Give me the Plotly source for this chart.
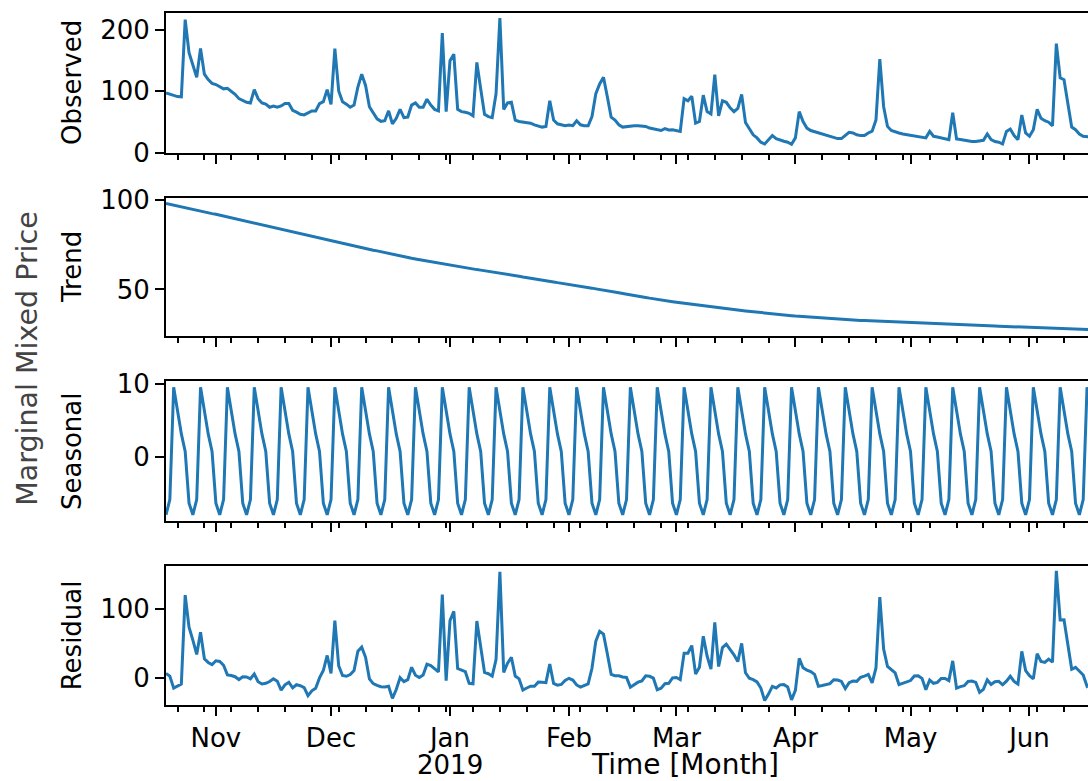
import numpy as np
import pandas as pd
import plotly.graph_objects as go
from plotly.subplots import make_subplots

# Daily marginal mixed price, 2018-10-19 .. 2019-06-17
start_date = "2018-10-19"

observed = [
    97.3, 95.0, 92.5, 91.4, 91.0, 216.8, 163.0, 142.0, 123.0, 170.0,
    128.0, 119.0, 113.0, 111.0, 108.0, 104.0, 105.0, 100.5, 95.0, 88.0,
    84.5, 82.0, 81.0, 102.7, 88.0, 81.0, 79.0, 74.0, 76.0, 74.0,
    76.0, 80.0, 80.0, 69.0, 66.0, 62.5, 61.4, 64.6, 68.0, 68.0,
    80.0, 83.0, 102.7, 78.5, 169.7, 100.5, 83.0, 79.0, 74.0, 77.5,
    107.0, 128.0, 109.6, 74.8, 65.0, 55.0, 51.0, 52.0, 68.0, 47.0,
    56.0, 70.5, 57.0, 58.0, 77.5, 81.0, 74.0, 74.0, 87.0, 77.5,
    70.5, 68.0, 195.0, 66.8, 150.0, 160.6, 70.5, 66.8, 65.7, 64.0,
    59.8, 147.0, 104.0, 62.5, 58.7, 57.0, 96.0, 219.5, 70.5, 81.0,
    82.0, 53.0, 50.7, 49.6, 49.0, 48.0, 45.3, 43.7, 41.6, 42.7,
    84.5, 53.0, 47.0, 45.3, 43.7, 44.8, 44.0, 52.0, 45.3, 43.7,
    43.7, 58.7, 96.0, 112.0, 123.0, 91.0, 57.7, 53.0, 45.3, 41.6,
    42.7, 43.7, 43.7, 43.7, 42.7, 42.7, 40.0, 39.0, 37.3, 36.0,
    39.0, 36.8, 37.3, 36.0, 34.6, 88.0, 84.5, 92.0, 48.0, 50.7,
    93.6, 66.8, 63.0, 127.0, 59.8, 84.5, 82.0, 73.0, 66.8, 72.0,
    95.0, 49.0, 38.4, 29.0, 24.0, 17.0, 14.0, 20.0, 27.7, 22.8,
    20.0, 18.5, 17.0, 13.5, 24.0, 66.8, 50.7, 40.0, 36.0, 34.0,
    32.0, 29.8, 28.0, 26.6, 25.0, 22.8, 22.8, 27.7, 33.0, 32.0,
    29.0, 27.7, 27.7, 32.0, 35.0, 53.4, 152.5, 74.8, 42.7, 36.0,
    33.5, 32.0, 30.3, 29.3, 28.7, 28.2, 26.6, 25.0, 24.0, 34.6,
    26.6, 25.5, 24.0, 22.3, 21.2, 65.0, 22.3, 21.2, 20.0, 19.0,
    18.0, 18.0, 19.0, 20.0, 30.3, 21.2, 18.0, 17.0, 14.0, 34.6,
    38.4, 27.7, 21.2, 61.4, 32.0, 26.6, 37.3, 70.5, 56.0, 52.0,
    49.6, 43.7, 177.7, 122.0, 118.8, 80.0, 41.6, 37.3, 30.3, 26.6,
    25.5, 25.5,
]

trend = [
    98.2, 97.7, 97.3, 96.8, 96.3, 95.8, 95.4, 94.9, 94.4, 93.9,
    93.5, 93.0, 92.5, 92.1, 91.6, 91.1, 90.6, 90.1, 89.6, 89.1,
    88.6, 88.1, 87.6, 87.1, 86.6, 86.1, 85.6, 85.1, 84.6, 84.1,
    83.6, 83.1, 82.6, 82.2, 81.7, 81.2, 80.7, 80.2, 79.7, 79.2,
    78.7, 78.2, 77.7, 77.3, 76.8, 76.3, 75.8, 75.4, 74.9, 74.4,
    73.9, 73.5, 73.0, 72.5, 72.0, 71.6, 71.1, 70.6, 70.1, 69.7,
    69.2, 68.8, 68.3, 67.9, 67.5, 67.1, 66.7, 66.3, 65.9, 65.5,
    65.1, 64.7, 64.3, 63.9, 63.5, 63.2, 62.8, 62.5, 62.1, 61.8,
    61.5, 61.1, 60.8, 60.5, 60.1, 59.8, 59.5, 59.1, 58.8, 58.4,
    58.1, 57.7, 57.4, 57.0, 56.7, 56.3, 56.0, 55.6, 55.3, 54.9,
    54.5, 54.2, 53.8, 53.5, 53.1, 52.8, 52.4, 52.1, 51.7, 51.4,
    51.0, 50.7, 50.3, 50.0, 49.6, 49.2, 48.9, 48.5, 48.1, 47.7,
    47.4, 47.0, 46.6, 46.2, 45.9, 45.5, 45.1, 44.7, 44.4, 44.0,
    43.7, 43.4, 43.1, 42.8, 42.5, 42.2, 41.9, 41.6, 41.3, 41.0,
    40.7, 40.5, 40.2, 39.9, 39.7, 39.4, 39.15, 38.9, 38.65, 38.4,
    38.15, 37.9, 37.65, 37.42, 37.19, 36.96, 36.73, 36.5, 36.27, 36.07,
    35.87, 35.67, 35.47, 35.27, 35.07, 34.9, 34.73, 34.56, 34.39, 34.22,
    34.05, 33.91, 33.77, 33.63, 33.49, 33.35, 33.21, 33.09, 32.97, 32.85,
    32.73, 32.61, 32.49, 32.39, 32.28, 32.18, 32.07, 31.97, 31.86, 31.76,
    31.65, 31.55, 31.45, 31.36, 31.27, 31.18, 31.09, 31.0, 30.91, 30.82,
    30.73, 30.64, 30.55, 30.47, 30.39, 30.31, 30.23, 30.15, 30.07, 29.99,
    29.91, 29.83, 29.75, 29.67, 29.59, 29.51, 29.43, 29.35, 29.27, 29.19,
    29.11, 29.03, 28.95, 28.87, 28.8, 28.72, 28.64, 28.56, 28.49, 28.41,
    28.33, 28.26, 28.18, 28.1, 28.03, 27.95, 27.88, 27.8, 27.73, 27.65,
    27.58, 27.5,
]

# Weekly seasonal profile, Friday .. Thursday
weekly_profile = [-7.9, -5.8, 9.6, 6.4, 3.2, 0.8, -6.3]

month_ticks = ["2018-11-01", "2018-12-01", "2019-01-01", "2019-02-01",
               "2019-03-01", "2019-04-01", "2019-05-01", "2019-06-01"]
month_labels = ["Nov", "Dec", "Jan", "Feb", "Mar", "Apr", "May", "Jun"]
year_label = "2019"

panel_titles = ["Observed", "Trend", "Seasonal", "Residual"]
panel_ticks = [[0, 100, 200], [50, 100], [0, 10], [0, 100]]
panel_ranges = [[-0.5, 227.7], [23.6, 101.5], [-8.7, 10.4], [-38.7, 162.8]]

# ---- decomposition components ----
dates = pd.date_range(start_date, periods=len(observed), freq="D")
obs = np.array(observed)
tr = np.array(trend)
seasonal = np.resize(np.array(weekly_profile), len(obs))
resid = obs - tr - seasonal
components = [obs, tr, seasonal, resid]

# visible window: the view ends a few hours after the second-to-last day
x_end = dates[0] + pd.Timedelta(hours=240.25 * 24)

# ---- layout geometry (pixels) ----
W, H = 1088, 781
M_L, M_R, M_T, M_B = 166, 0, 13, 75.5
plot_w = W - M_L - M_R
plot_h = H - M_T - M_B
panel_px = [(13, 153), (197.7, 336.7), (381.7, 521), (566, 705.5)]


def frac_y(py):
    return (H - M_B - py) / plot_h


def frac_x(px):
    return (px - M_L) / plot_w


LINE = "#1f77b4"
FONT = "DejaVu Sans"

fig = make_subplots(rows=4, cols=1, shared_xaxes=True)

for k, comp in enumerate(components):
    fig.add_trace(
        go.Scatter(x=dates, y=comp, mode="lines",
                   line=dict(color=LINE, width=3), showlegend=False,
                   hoverinfo="x+y"),
        row=k + 1, col=1,
    )

for k in range(4):
    top, bot = panel_px[k]
    fig.update_yaxes(
        domain=[frac_y(bot), frac_y(top)],
        range=panel_ranges[k],
        tickvals=panel_ticks[k],
        ticks="outside", ticklen=9, tickwidth=2, tickcolor="black",
        showline=True, linecolor="black", linewidth=2, mirror=True,
        showgrid=False, zeroline=False, automargin=False,
        tickfont=dict(family=FONT, size=26, color="black"),
        row=k + 1, col=1,
    )
    fig.update_xaxes(
        range=[dates[0], x_end],
        tickvals=month_ticks,
        ticktext=month_labels,
        ticks="outside", ticklen=9, tickwidth=2, tickcolor="black",
        minor=dict(ticks="outside", ticklen=5, tickwidth=1.5,
                   tickcolor="black", dtick=7 * 86400000,
                   tick0="2018-10-22"),
        showline=True, linecolor="black", linewidth=2, mirror=True,
        showgrid=False, zeroline=False, automargin=False,
        showticklabels=(k == 3),
        tickfont=dict(family=FONT, size=26, color="black"),
        row=k + 1, col=1,
    )

annotations = []
for k, title in enumerate(panel_titles):
    top, bot = panel_px[k]
    annotations.append(dict(
        text=title, textangle=-90, xref="paper", yref="paper",
        x=frac_x(72), y=frac_y((top + bot) / 2),
        xanchor="center", yanchor="middle", showarrow=False,
        font=dict(family=FONT, size=26, color="black"),
    ))

annotations.append(dict(
    text="Marginal Mixed Price", textangle=-90, xref="paper", yref="paper",
    x=frac_x(28), y=frac_y(359), xanchor="center", yanchor="middle",
    showarrow=False, font=dict(family=FONT, size=28.5, color="#444444"),
))
annotations.append(dict(
    text="Time [Month]", xref="paper", yref="paper",
    x=frac_x(685), y=frac_y(765), xanchor="center", yanchor="middle",
    showarrow=False, borderpad=0,
    font=dict(family=FONT, size=28, color="black"),
))
annotations.append(dict(
    text=year_label, xref="x4", yref="paper",
    x=month_ticks[2], y=frac_y(766), xanchor="center", yanchor="middle",
    showarrow=False, borderpad=0,
    font=dict(family=FONT, size=26, color="black"),
))

fig.update_layout(
    width=W, height=H, autosize=False,
    margin=dict(l=M_L, r=M_R, t=M_T, b=M_B, pad=0),
    paper_bgcolor="white", plot_bgcolor="white",
    annotations=annotations,
    font=dict(family=FONT, color="black"),
)

fig.write_html("out.html")
